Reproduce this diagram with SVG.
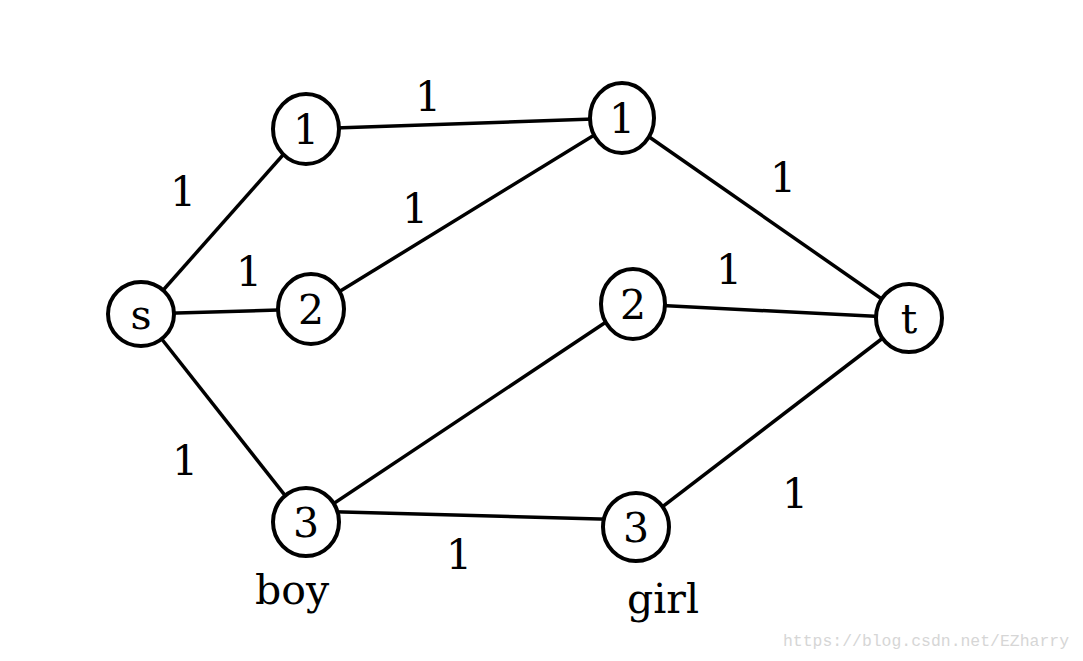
<svg xmlns="http://www.w3.org/2000/svg" width="1083" height="661" viewBox="0 0 1083 661">
<style>
.n ellipse{fill:#fff;stroke:#000;stroke-width:4}
.n text,.lbl{font-family:"DejaVu Serif","Liberation Serif",serif;font-size:41px;fill:#000;text-anchor:middle}
.e line{stroke:#000;stroke-width:3.5}
.w{font-family:"Liberation Mono","DejaVu Sans Mono",monospace;font-size:16px;fill:#d6d6d6}
</style>
<rect width="1083" height="661" fill="#fff"/>
<g id="connectors" class="e">
<line x1="142" y1="314" x2="306" y2="129"/>
<line x1="306" y1="129" x2="622" y2="118"/>
<line x1="142" y1="314" x2="311" y2="309"/>
<line x1="311" y1="309" x2="622" y2="118"/>
<line x1="142" y1="314" x2="306" y2="522"/>
<line x1="306" y1="522" x2="633" y2="304"/>
<line x1="306" y1="511" x2="636" y2="520"/>
<line x1="622" y1="118" x2="909" y2="318"/>
<line x1="633" y1="304" x2="909" y2="318"/>
<line x1="636" y1="527" x2="909" y2="318"/>
</g>
<g id="edge-labels" class="lbl">
<text x="428" y="111">1</text>
<text x="183" y="206">1</text>
<text x="415" y="223">1</text>
<text x="249" y="286">1</text>
<text x="783" y="192">1</text>
<text x="729" y="284">1</text>
<text x="185" y="475">1</text>
<text x="459" y="569">1</text>
<text x="795" y="508">1</text>
</g>
<g id="node-s" class="n"><ellipse cx="141" cy="314" rx="33" ry="32"/><text x="141" y="329">s</text></g>
<g id="node-boy1" class="n"><ellipse cx="306" cy="129" rx="33" ry="35"/><text x="306" y="144">1</text></g>
<g id="node-boy2" class="n"><ellipse cx="311" cy="309" rx="33" ry="35"/><text x="311" y="324">2</text></g>
<g id="node-boy3" class="n"><ellipse cx="306" cy="522" rx="33" ry="34"/><text x="306" y="537">3</text></g>
<g id="node-girl1" class="n"><ellipse cx="622" cy="118" rx="32" ry="35"/><text x="622" y="133">1</text></g>
<g id="node-girl2" class="n"><ellipse cx="633" cy="304" rx="32" ry="35"/><text x="633" y="319">2</text></g>
<g id="node-girl3" class="n"><ellipse cx="636" cy="527" rx="33" ry="34"/><text x="636" y="542">3</text></g>
<g id="node-t" class="n"><ellipse cx="909" cy="318" rx="33" ry="34"/><text x="909" y="333">t</text></g>
<text class="lbl" x="292" y="604">boy</text>
<text class="lbl" x="663" y="613">girl</text>
<text class="w" x="783" y="646" textLength="286" lengthAdjust="spacingAndGlyphs">https://blog.csdn.net/EZharry</text>
</svg>
